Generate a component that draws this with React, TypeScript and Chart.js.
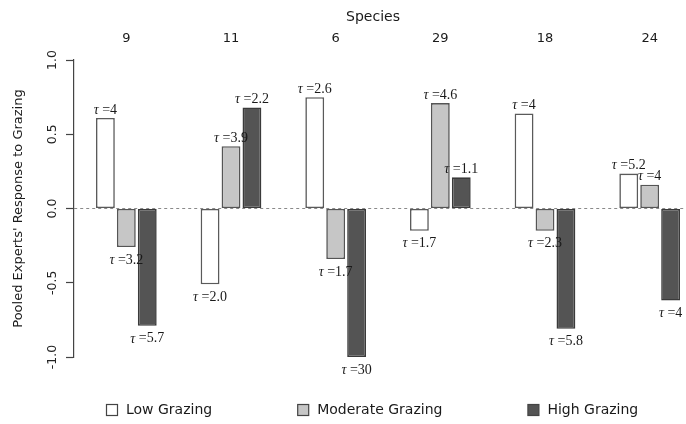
import { useEffect, useRef } from 'react';
import { Chart, registerables } from 'chart.js';

Chart.register(...registerables);

const species = ['9', '11', '6', '29', '18', '24'];
const seriesNames = ['Low Grazing', 'Moderate Grazing', 'High Grazing'];
const lowValues = [0.61, -0.51, 0.75, -0.15, 0.64, 0.235];
const moderateValues = [-0.26, 0.42, -0.34, 0.71, -0.15, 0.16];
const highValues = [-0.79, 0.68, -1.0, 0.21, -0.81, -0.62];
const lowTau = ['4', '2.0', '2.6', '1.7', '4', '5.2'];
const moderateTau = ['3.2', '3.9', '1.7', '4.6', '2.3', '4'];
const highTau = ['5.7', '2.2', '30', '1.1', '5.8', '4'];
const yTicks = [-1, -0.5, 0, 0.5, 1];
const xTitle = 'Species';
const yTitle = "Pooled Experts' Response to Grazing";

const SANS = '"DejaVu Sans", Verdana, sans-serif';
const SERIF = '"Liberation Serif", "Times New Roman", serif';
const tauLists = [lowTau, moderateTau, highTau];

function drawTau(ctx: CanvasRenderingContext2D, cx: number, cy: number, val: string) {
  const fTau = `italic 14px ${SERIF}`;
  const fRest = `14px ${SERIF}`;
  const rest = ' =' + val;
  ctx.font = fTau;
  const w1 = ctx.measureText('τ').width;
  ctx.font = fRest;
  const w2 = ctx.measureText(rest).width;
  const x0 = cx - (w1 + w2) / 2;
  ctx.textBaseline = 'middle';
  ctx.textAlign = 'left';
  ctx.fillStyle = '#1a1a1a';
  ctx.font = fTau;
  ctx.fillText('τ', x0, cy);
  ctx.font = fRest;
  ctx.fillText(rest, x0 + w1, cy);
}

const decorPlugin = {
  id: 'decor',
  afterDatasetsDraw(chart: any) {
    const ctx = chart.ctx as CanvasRenderingContext2D;
    ctx.save();
    chart.data.datasets.forEach((ds: any, di: number) => {
      const meta = chart.getDatasetMeta(di);
      meta.data.forEach((bar: any, i: number) => {
        const v = ds.data[i] as number;
        const { x, y } = bar.getProps(['x', 'y'], true);
        const ty = v >= 0 ? y - 8 : y + 13;
        drawTau(ctx, x, ty, tauLists[di][i]);
      });
    });
    ctx.restore();
  },
  afterDraw(chart: any) {
    const ctx = chart.ctx as CanvasRenderingContext2D;
    ctx.save();
    ctx.font = `14px ${SANS}`;
    ctx.fillStyle = '#1a1a1a';
    ctx.textAlign = 'center';
    ctx.textBaseline = 'middle';
    ctx.fillText(xTitle, 373, 17);
    let x = 106;
    const cy = 410;
    ctx.font = `14px ${SANS}`;
    ctx.textAlign = 'left';
    chart.data.datasets.forEach((ds: any) => {
      ctx.fillStyle = ds.backgroundColor;
      ctx.fillRect(x + 0.5, cy - 5.5, 11, 11);
      ctx.strokeStyle = '#444';
      ctx.lineWidth = 1.2;
      ctx.strokeRect(x + 0.5, cy - 5.5, 11, 11);
      ctx.fillStyle = '#1a1a1a';
      ctx.fillText(ds.label, x + 20, cy);
      x += 20 + ctx.measureText(ds.label).width + 85;
    });
    ctx.restore();
  },
};

export default function App() {
  const ref = useRef<HTMLCanvasElement | null>(null);
  useEffect(() => {
    if (!ref.current) return;
    const chart = new Chart(ref.current, {
      type: 'bar',
      data: {
        labels: species,
        datasets: [
          { label: seriesNames[0], data: lowValues, backgroundColor: '#ffffff', borderColor: '#5a5a5a' },
          { label: seriesNames[1], data: moderateValues, backgroundColor: '#c6c6c6', borderColor: '#555555' },
          { label: seriesNames[2], data: highValues, backgroundColor: '#545454', borderColor: '#3a3a3a' },
        ].map((d) => ({
          ...d,
          borderWidth: 1.6,
          borderSkipped: false,
          barPercentage: 0.9,
          categoryPercentage: 0.6,
        })),
      },
      options: {
        animation: false,
        responsive: false,
        devicePixelRatio: 1,
        layout: { padding: { left: 0, right: 18, top: 0, bottom: 67 } },
        plugins: { legend: { display: false }, tooltip: { enabled: false } },
        scales: {
          x: {
            position: 'top',
            grid: { display: false },
            border: { display: false },
            ticks: {
              padding: 6,
              maxRotation: 0,
              minRotation: 0,
              color: '#1a1a1a',
              font: { family: SANS, size: 13 },
            },
            afterFit: (s: any) => {
              s.height = 60;
            },
          },
          y: {
            min: -1,
            max: 1,
            afterBuildTicks: (s: any) => {
              s.ticks = yTicks.map((v) => ({ value: v }));
            },
            afterFit: (s: any) => {
              s.width = 74;
            },
            border: {
              display: true,
              color: '#444',
              width: 1.2,
              dash: (c: any) => (c.tick && c.tick.value === 0 ? [3, 3] : []),
            },
            grid: {
              color: (c: any) => (c.tick && c.tick.value === 0 ? '#8a8a8a' : 'rgba(0,0,0,0)'),
              lineWidth: 1,
              drawTicks: true,
              tickLength: 8,
              tickColor: '#444',
              tickWidth: 1.2,
            },
            ticks: {
              minRotation: 90,
              maxRotation: 90,
              crossAlign: 'center',
              padding: 1,
              color: '#222',
              font: { family: SANS, size: 12.5 },
              callback: (v: any) => Number(v).toFixed(1),
            },
            title: {
              display: true,
              text: yTitle,
              color: '#1a1a1a',
              font: { family: SANS, size: 13 },
              padding: { top: 11, bottom: 0 },
            },
          },
        },
      },
      plugins: [decorPlugin],
    } as any);
    return () => chart.destroy();
  }, []);
  return (
    <div
      style={{
        position: 'fixed',
        left: 0,
        top: 0,
        width: 686,
        height: 424,
        overflow: 'hidden',
        background: '#fff',
      }}
    >
      <canvas ref={ref} width={720} height={424} style={{ display: 'block', width: 720, height: 424 }} />
    </div>
  );
}
